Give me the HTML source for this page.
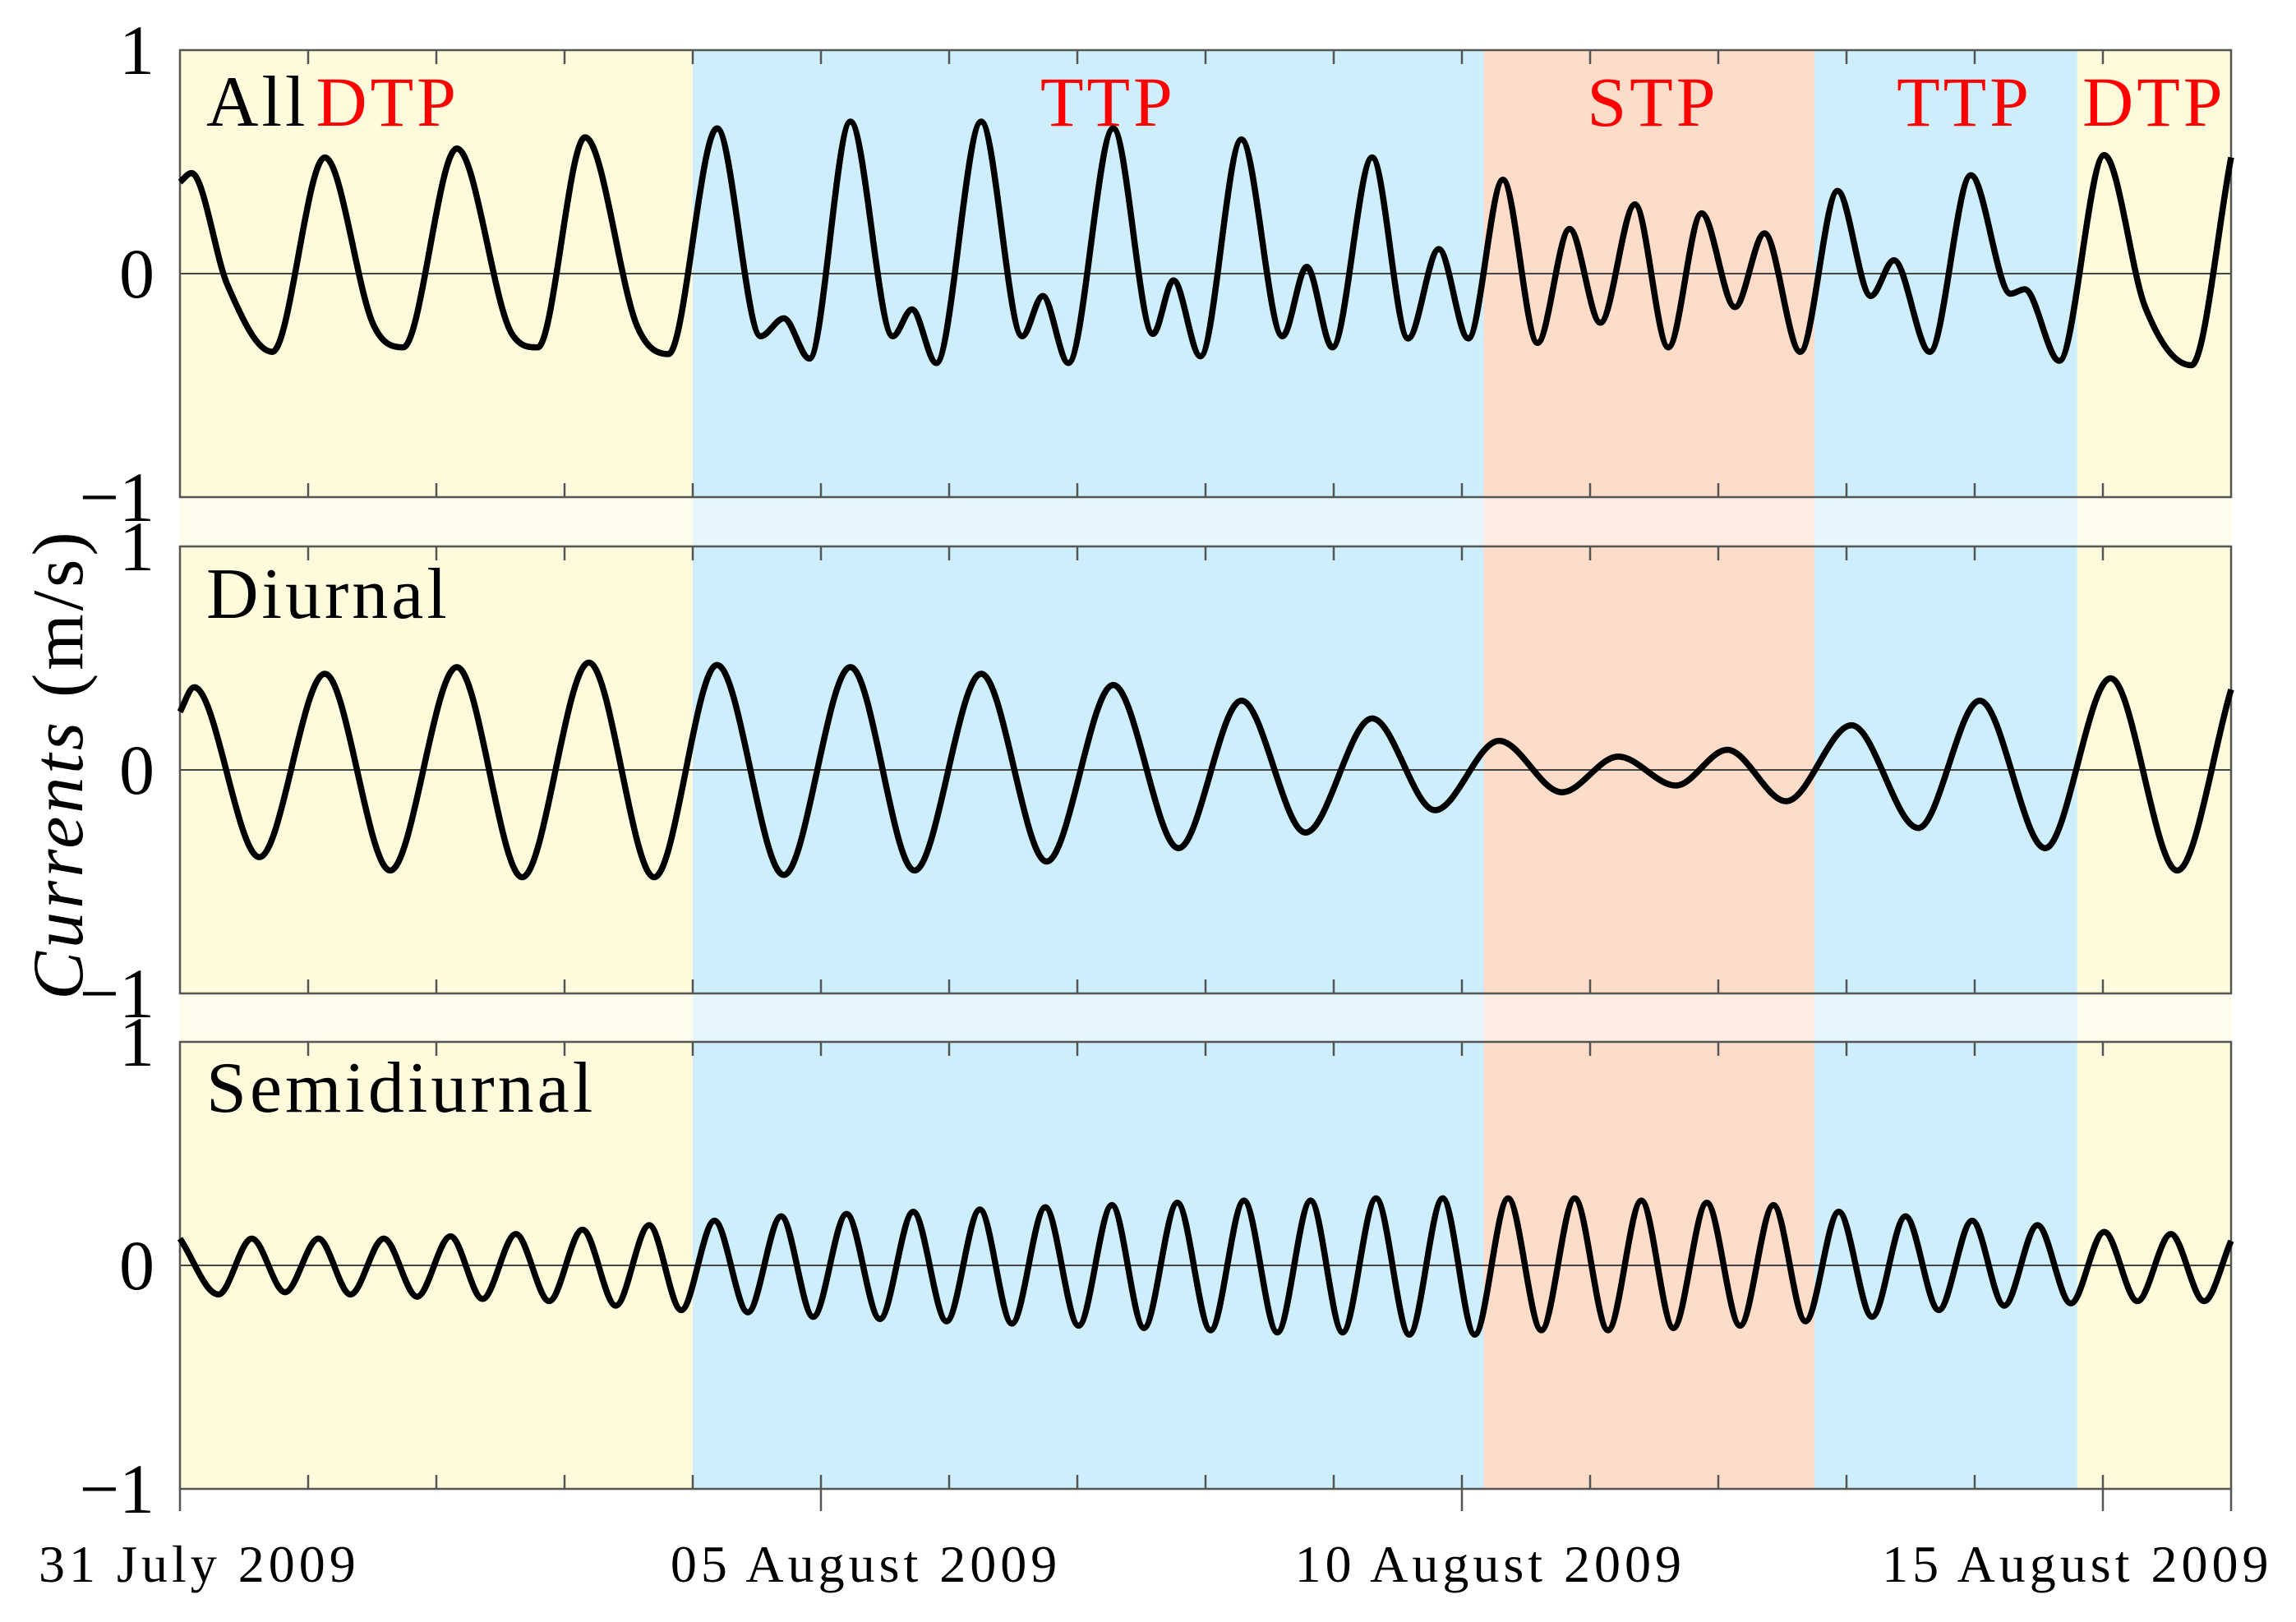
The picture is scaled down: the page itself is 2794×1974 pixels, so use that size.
<!DOCTYPE html>
<html><head><meta charset="utf-8"><style>
html,body{margin:0;padding:0;background:#fff;}
svg{display:block;}
text{font-family:"Liberation Serif",serif;}
</style></head><body>
<svg id="chart" width="2794" height="1974" viewBox="0 0 2794 1974" xmlns="http://www.w3.org/2000/svg"></svg>
<script>
// ---- data ----
const dayTicks = [0,1,2,3,4,5,6,7,8,9,10,11,12,13,14,15,16];
const dateLabels = ["31 July 2009","05 August 2009","10 August 2009","15 August 2009"];
const dateLabelDays = [0.15,5.35,10.22,14.8];
const regionStart = [0,4.0,10.17,12.75,14.8];
const regionEnd = [4.0,10.17,12.75,14.8,16];
const regionNames = ["DTP","TTP","STP","TTP","DTP"];
const regionLabelDay = [1.62,7.24,11.49,13.92,15.40];
const yTicks = [1,0,-1];
const yTickLabels = ["1","0","\u22121"];
const panelNames = ["All","Diurnal","Semidiurnal"];

const allT = [0,.09,.37,.72,1.13,1.51,1.74,2.16,2.59,2.79,3.16,3.57,3.81,4.19,4.53,4.71,4.91,5.23,5.56,5.71,5.90,6.25,6.57,6.73,6.93,7.28,7.59,7.75,7.96,8.28,8.60,8.79,8.99,9.30,9.58,9.82,10.05,10.32,10.59,10.84,11.08,11.35,11.61,11.87,12.13,12.36,12.64,12.93,13.19,13.37,13.65,13.97,14.28,14.39,14.66,15.01,15.33,15.69,16.0];
const allV = [.41,.45,-.05,-.35,.52,-.23,-.33,.56,-.27,-.33,.61,-.24,-.36,.65,-.28,-.2,-.38,.68,-.28,-.16,-.40,.68,-.28,-.10,-.40,.65,-.27,-.03,-.37,.60,-.28,.03,-.33,.52,-.29,.11,-.29,.42,-.31,.20,-.22,.31,-.33,.27,-.15,.18,-.35,.37,-.10,.06,-.35,.44,-.09,-.07,-.39,.53,-.15,-.41,.52];

const diT = [0,.11,.62,1.13,1.64,2.16,2.67,3.19,3.70,4.19,4.71,5.23,5.73,6.25,6.76,7.28,7.79,8.28,8.78,9.30,9.79,10.29,10.78,11.22,11.67,12.07,12.53,13.04,13.56,14.04,14.55,15.06,15.58,16.0];
const diV = [.26,.37,-.39,.43,-.45,.46,-.48,.48,-.48,.47,-.47,.46,-.45,.43,-.41,.38,-.35,.31,-.28,.23,-.18,.13,-.10,.06,-.07,.09,-.14,.20,-.26,.31,-.35,.41,-.45,.36];

const sdPeakT = [.56,1.08,1.59,2.11,2.62,3.14,3.66,4.17,4.69,5.20,5.72,6.24,6.75,7.27,7.78,8.30,8.82,9.33,9.85,10.36,10.88,11.40,11.91,12.43,12.94,13.46,13.98,14.49,15.01,15.53];
const sdPeakV = [.12,.12,.12,.13,.14,.16,.18,.20,.22,.23,.24,.25,.26,.27,.28,.29,.29,.30,.30,.30,.30,.29,.28,.27,.24,.22,.20,.18,.15,.14];
const sdTroughT = [.30,.82,1.33,1.85,2.36,2.88,3.40,3.91,4.43,4.94,5.46,5.98,6.49,7.01,7.52,8.04,8.56,9.07,9.59,10.10,10.62,11.14,11.65,12.17,12.68,13.20,13.72,14.23,14.75,15.27,15.79];
const sdTroughV = [-.13,-.12,-.13,-.14,-.15,-.16,-.18,-.20,-.21,-.23,-.24,-.25,-.26,-.27,-.28,-.29,-.30,-.30,-.31,-.31,-.29,-.29,-.28,-.27,-.25,-.23,-.20,-.18,-.17,-.16,-.16];
const sdStart = [0,.12];
const sdEnd = [16,.11];

// ---- layout ----
const svg = document.getElementById('chart');
const NS = 'http://www.w3.org/2000/svg';
const X0 = 219, X1 = 2715;
const panelTop = [61,665,1268];
const PH = 544;
const fills = ["#fefbdc","#cdeefa","#fddcc9","#cdeefa","#fefbdc"];
const gapFills = ["#fffcec","#e6f6fd","#ffede4","#e6f6fd","#fffcec"];
const regionKind = ["dtp","ttp","stp","ttp","dtp"];
function xs(d){ return X0 + (X1-X0)*d/16; }
function ys(p,v){ return panelTop[p] + PH/2 - v*PH/2; }
function mk(tag, attrs, parent){ const e=document.createElementNS(NS,tag); for(const k in attrs) e.setAttribute(k,attrs[k]); (parent||svg).appendChild(e); return e; }

function monoPath(p, T, V){
  const n=T.length, X=T.map(xs), Y=V.map(v=>ys(p,v));
  const d=[], m=[];
  for(let i=0;i<n-1;i++) d.push((Y[i+1]-Y[i])/(X[i+1]-X[i]));
  m[0]=d[0]; m[n-1]=d[n-2];
  for(let i=1;i<n-1;i++){ m[i] = (d[i-1]*d[i]<=0)?0:(d[i-1]+d[i])/2; }
  for(let i=0;i<n-1;i++){ if(d[i]===0){m[i]=0;m[i+1]=0;continue;} const a=m[i]/d[i], b=m[i+1]/d[i]; const s=a*a+b*b; if(s>9){const t=3/Math.sqrt(s); m[i]=t*a*d[i]; m[i+1]=t*b*d[i];} }
  let s='M'+X[0].toFixed(1)+','+Y[0].toFixed(1);
  for(let i=0;i<n-1;i++){ const h=(X[i+1]-X[i])/3; s+=' C'+(X[i]+h).toFixed(1)+','+(Y[i]+m[i]*h).toFixed(1)+' '+(X[i+1]-h).toFixed(1)+','+(Y[i+1]-m[i+1]*h).toFixed(1)+' '+X[i+1].toFixed(1)+','+Y[i+1].toFixed(1); }
  return s;
}

for(let r=0;r<regionStart.length;r++){
  const x=xs(regionStart[r]), w=xs(regionEnd[r])-x;
  const rect=mk('rect',{x:x,y:panelTop[0],width:w,height:panelTop[2]+PH-panelTop[0],fill:fills[r]});
  
  
  for(let g=0; g<2; g++){
    const gy=panelTop[g]+PH;
    const gr=mk('rect',{x:x,y:gy,width:w,height:panelTop[g+1]-gy,fill:gapFills[r]});
    
    
  }
}

for(let p=0;p<3;p++){
  const g=mk('g',{});
  
  
  const top=panelTop[p], bot=top+PH;
  const zl=mk('line',{x1:X0,x2:X1,y1:ys(p,0),y2:ys(p,0),stroke:'#444','stroke-width':2},g);
  
  
  for(const d of dayTicks){
    if(d===0||d===16) continue;
    const t1=mk('line',{x1:xs(d),x2:xs(d),y1:top,y2:top+17,stroke:'#555','stroke-width':2.5},g);
    
    
    const t2=mk('line',{x1:xs(d),x2:xs(d),y1:bot,y2:bot-17,stroke:'#555','stroke-width':2.5},g);
    
    
  }
  const fr=mk('rect',{x:X0,y:top,width:X1-X0,height:PH,fill:'none',stroke:'#555','stroke-width':2.5},g);
  
  
  for(let i=0;i<yTicks.length;i++){
    const t=mk('text',{x:188,y:ys(p,yTicks[i])+29,'text-anchor':'end','font-size':86,fill:'#000'},g);
    t.textContent=yTickLabels[i];
    
    
  }
  const lbl=mk('text',{x:251,y:[153,752,1353][p],'font-size':88,'letter-spacing':4,fill:'#000'},g);
  lbl.textContent=panelNames[p];
  
  
}

for(let r=0;r<regionNames.length;r++){
  const t=mk('text',{x:xs(regionLabelDay[r]),y:153,'text-anchor':'middle','font-size':86,'letter-spacing':4,fill:'#ff0000'});
  t.textContent=regionNames[r];
  
  
}

const s1=mk('path',{d:monoPath(0,allT,allV),fill:'none',stroke:'#000','stroke-width':7.5,'stroke-linejoin':'round'});


const s2=mk('path',{d:monoPath(1,diT,diV),fill:'none',stroke:'#000','stroke-width':7.5,'stroke-linejoin':'round'});


const sdT=[sdStart[0]], sdV=[sdStart[1]];
for(let i=0;i<sdTroughT.length;i++){
  sdT.push(sdTroughT[i]); sdV.push(sdTroughV[i]);
  if(i<sdPeakT.length){ sdT.push(sdPeakT[i]); sdV.push(sdPeakV[i]); }
}
sdT.push(sdEnd[0]); sdV.push(sdEnd[1]);
const s3=mk('path',{d:monoPath(2,sdT,sdV),fill:'none',stroke:'#000','stroke-width':7.5,'stroke-linejoin':'round'});



const botY=panelTop[2]+PH;
for(const d of [0,5,10,15,16]){
  const t=mk('line',{x1:xs(d),x2:xs(d),y1:botY,y2:botY+27,stroke:'#555','stroke-width':2.5});
  
  
}
for(let i=0;i<dateLabels.length;i++){
  const t=mk('text',{x:xs(dateLabelDays[i]),y:1925,'text-anchor':'middle','font-size':64,'letter-spacing':5,fill:'#000'});
  t.textContent=dateLabels[i];
  
  
}

const yt=mk('text',{x:0,y:0,'font-size':88,'text-anchor':'middle',fill:'#000',transform:'translate(100,930) rotate(-90)','letter-spacing':4});


const ti=mk('tspan',{'font-style':'italic'},yt); ti.textContent='Currents';
const tr=mk('tspan',{},yt); tr.textContent=' (m/s)';
</script>
</body></html>
